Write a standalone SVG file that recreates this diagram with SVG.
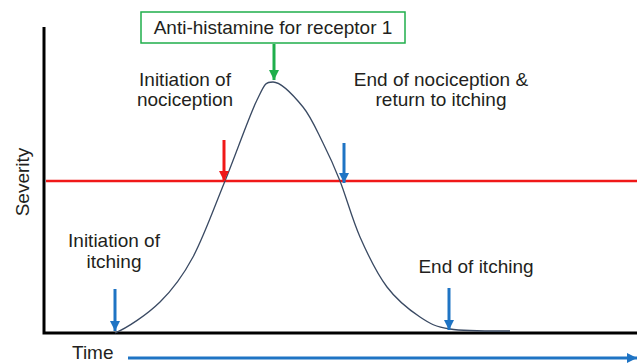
<svg xmlns="http://www.w3.org/2000/svg" width="637" height="363" viewBox="0 0 637 363">
<style>
text{font-family:"Liberation Sans",Arial,sans-serif;font-size:19px;fill:#231f20}
.ax{stroke:#000;stroke-width:3;fill:none}
.blue{stroke:#1f74c4;stroke-width:3;fill:none}
.red{stroke:#f01818;stroke-width:3;fill:none}
.green{stroke:#1fae4b;stroke-width:3;fill:none}
</style>
<defs>
<marker id="hb" markerUnits="userSpaceOnUse" markerWidth="12" markerHeight="12" refX="10" refY="5" orient="auto"><path d="M0,0 L10,5 L0,10 Z" fill="#1f74c4"/></marker>
<marker id="hr" markerUnits="userSpaceOnUse" markerWidth="12" markerHeight="12" refX="10" refY="5" orient="auto"><path d="M0,0 L10,5 L0,10 Z" fill="#f01818"/></marker>
<marker id="hg" markerUnits="userSpaceOnUse" markerWidth="12" markerHeight="12" refX="10" refY="5" orient="auto"><path d="M0,0 L10,5 L0,10 Z" fill="#1fae4b"/></marker>
</defs>
<g id="axes">
<path class="ax" d="M44,27 V333 H637"/>
<text x="29" y="182" text-anchor="middle" transform="rotate(-90 29 182)">Severity</text>
<text x="72" y="359">Time</text>
</g>
<g id="threshold"><path d="M46,181 H637" stroke="#f01818" stroke-width="2.5"/></g>
<g id="curve"><path fill="none" stroke="#3a4a63" stroke-width="1.3" d="M115,333 C127,328 147,314.7 160,302 C173,289.3 182.2,277.2 193,257 C203.8,236.8 214.3,207.2 225,181 C235.7,154.8 249,116.5 257,100 C265,83.5 265,82 273,82 C281,82 294.7,96.8 303,107 C311.3,117.2 316.8,130.7 323,143 C329.2,155.3 333.8,165.3 340,181 C346.2,196.7 352.2,219.3 360,237 C367.8,254.7 377,273.7 387,287 C397,300.3 409.5,310 420,317 C430.5,324 435,326.7 450,329 C465,331.3 500,331 510,331"/></g>
<g id="box"><rect x="141" y="12" width="264" height="31" fill="#fff" stroke="#1fae4b" stroke-width="1.5"/><text x="273" y="34" text-anchor="middle">Anti-histamine for receptor 1</text></g>
<g id="connectors">
<path class="green" d="M274,44 V80" marker-end="url(#hg)"/>
<path class="red" d="M224,140 V181" marker-end="url(#hr)"/>
<path class="blue" d="M344,143 V183" marker-end="url(#hb)"/>
<path class="blue" d="M115,289 V331" marker-end="url(#hb)"/>
<path class="blue" d="M449,288 V330" marker-end="url(#hb)"/>
<path class="blue" d="M128,358 H637" marker-end="url(#hb)"/>
</g>
<g id="lbl-nociception"><text x="185" y="86" text-anchor="middle">Initiation of</text><text x="185" y="106" text-anchor="middle">nociception</text></g>
<g id="lbl-end-nociception"><text x="441" y="86" text-anchor="middle">End of nociception &amp;</text><text x="441" y="106" text-anchor="middle">return to itching</text></g>
<g id="lbl-itching"><text x="114" y="247" text-anchor="middle">Initiation of</text><text x="114" y="268" text-anchor="middle">itching</text></g>
<g id="lbl-end-itching"><text x="476" y="273" text-anchor="middle">End of itching</text></g>
</svg>
